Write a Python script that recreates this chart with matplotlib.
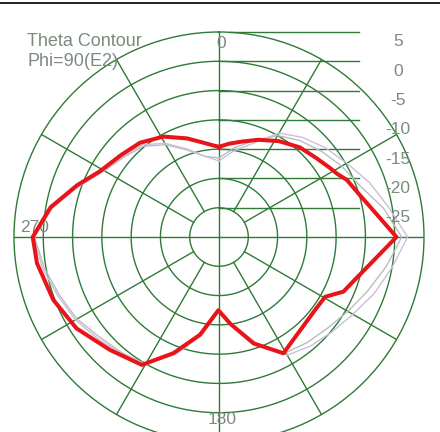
import numpy as np
import matplotlib
matplotlib.use("Agg")
import matplotlib.pyplot as plt
from matplotlib.lines import Line2D

plt.rcParams['font.family'] = ['Liberation Sans', 'DejaVu Sans']

# ---------------- data ----------------
red_theta = [0, 6, 13, 22, 32, 42, 51, 58, 62, 65.9, 73, 79.4, 85.1, 90, 94.7, 100.2,
             106.6, 113.7, 119.4, 127.7, 135.9, 143.8, 151, 162, 172.7, 180.5, 191,
             201.4, 211.1, 224, 237.3, 249.2, 261.8, 270, 280, 290, 299, 310, 320, 331,
             342, 350, 356, 360]
red_db = [-14.6, -14.0, -13.3, -12.1, -10.7, -9.4, -8.6, -7.7, -7.1, -6.1, -5.0, -3.5,
          -1.7, 0.3, -1.85, -3.8, -5.5, -6.8, -9.2, -9.4, -9.1, -8.4, -7.3, -10.9, -15.1,
          -17.5, -13.0, -8.7, -4.5, -3.2, -1.1, 0.26, 1.4, 1.8, -0.8, -4.2, -6.8, -8.2,
          -9.0, -10.4, -12.3, -13.6, -14.3, -14.6]

gray_theta = [0, 10, 20, 30, 40, 50, 60, 70, 80, 90, 100, 110, 120, 130, 140, 150, 160,
              170, 180, 190, 200, 210, 220, 230, 240, 250, 260, 270, 280, 290, 300, 310,
              320, 330, 340, 350, 360]
gray1_db = [-16.5, -14.5, -12.5, -10.0, -8.5, -7.2, -5.8, -4.4, -1.5, 1.2, -1.0, -3.0,
            -4.6, -5.8, -6.5, -7.2, -10.3, -14.2, -17.3, -13.0, -8.8, -4.9, -4.2, -3.4,
            -2.0, -1.0, 0.3, 1.5, -1.0, -4.6, -7.4, -8.8, -9.8, -11.8, -14.2, -16.0,
            -16.5]
gray2_db = [-17.0, -15.0, -13.0, -9.5, -7.8, -6.3, -4.8, -2.7, -0.6, 2.2, 0.0, -1.8,
            -3.6, -4.8, -5.7, -6.7, -10.5, -14.5, -17.5, -13.2, -9.0, -5.0, -4.0, -3.0,
            -1.7, -0.7, 0.6, 1.7, -1.2, -4.5, -7.2, -8.6, -9.5, -11.5, -14.0, -16.0,
            -17.0]

r_levels = [-25, -20, -15, -10, -5, 0, 5]
r_labels = ["-25", "-20", "-15", "-10", "-5", "0", "5"]
spoke_angles = [30, 60, 120, 150, 210, 240, 300, 330]
axis_angles = [0, 90, 180, 270]
angle_labels = {0: "0", 180: "180", 270: "270"}

RMIN, RMAX = -30, 5
GREEN = "#2e7a36"
TXT = "#7d8a7d"
FS = 12.5

# ---------------- figure ----------------
W, H = 440, 432
fig = plt.figure(figsize=(W / 100, H / 100), dpi=100)
fig.patch.set_facecolor("white")

cx, cy, R = 219, 237, 205
ax = fig.add_axes([(cx - R) / W, (H - (cy + R)) / H, 2 * R / W, 2 * R / H],
                  projection="polar")
ax.set_theta_zero_location("N")
ax.set_theta_direction(-1)
ax.set_ylim(RMIN, RMAX)
ax.grid(False)
ax.set_xticks([])
ax.set_yticks([])
ax.spines["polar"].set_color(GREEN)
ax.spines["polar"].set_linewidth(1.0)
ax.patch.set_visible(False)

circ = np.linspace(0, 2 * np.pi, 361)
for lv in r_levels[:-1]:
    ax.plot(circ, np.full_like(circ, lv), color=GREEN, lw=1.0, zorder=1)

for a in spoke_angles:
    t = np.deg2rad(a)
    ax.plot([t, t], [r_levels[0], RMAX], color=GREEN, lw=1.0, zorder=1)
for a in axis_angles:
    t = np.deg2rad(a)
    ax.plot([t, t], [RMIN, RMAX], color=GREEN, lw=1.0, zorder=1)

# horizontal scale lines on the right
x_end = 0.5 + (359 - cx) / (2 * R)
for lv, lab in zip(r_levels, r_labels):
    yax = 0.5 + 0.5 * (lv - RMIN) / (RMAX - RMIN)
    x0 = 0.5 + (230 - cx) / (2 * R) if lv == RMAX else 0.5
    ax.plot([x0, x_end], [yax, yax], transform=ax.transAxes, color=GREEN, lw=1.0,
            zorder=1, clip_on=False)
    ax.text(0.5 + (398 - cx) / (2 * R), yax - 10 / (2 * R), lab,
            transform=ax.transAxes, ha="center", va="center", fontsize=FS,
            color=TXT, zorder=5, clip_on=False)

# traces
ax.plot(np.deg2rad(gray_theta), gray1_db, color="#bcbcbc", lw=1.0, zorder=2)
ax.plot(np.deg2rad(gray_theta), gray2_db, color="#cbbfdc", lw=1.0, zorder=2)
ax.plot(np.deg2rad(red_theta), red_db, color="#e8141a", lw=2.9, zorder=4,
        solid_joinstyle="round")

# angle labels
ax.text((221 - (cx - R)) / (2 * R), 1 - (43 - (cy - R)) / (2 * R), angle_labels[0],
        transform=ax.transAxes, ha="center", va="center", fontsize=FS, color=TXT,
        zorder=5)
ax.text((222 - (cx - R)) / (2 * R), 1 - (420 - (cy - R)) / (2 * R), angle_labels[180],
        transform=ax.transAxes, ha="center", va="center", fontsize=FS, color=TXT,
        zorder=5)
ax.text((35 - (cx - R)) / (2 * R), 1 - (228 - (cy - R)) / (2 * R), angle_labels[270],
        transform=ax.transAxes, ha="center", va="center", fontsize=FS, color=TXT,
        zorder=3)

# title text
fig.text(27 / W, 1 - 42 / H, "Theta Contour", ha="left", va="center", fontsize=13,
         color=TXT)
fig.text(27 / W, 1 - 61 / H, "Phi=90(E2)", ha="left", va="center", fontsize=13,
         color=TXT)

# top border line
fig.add_artist(Line2D([0, 1], [1 - 3 / H, 1 - 3 / H], color="black", lw=1.2,
                      transform=fig.transFigure))

fig.savefig("out.png", dpi=100)
